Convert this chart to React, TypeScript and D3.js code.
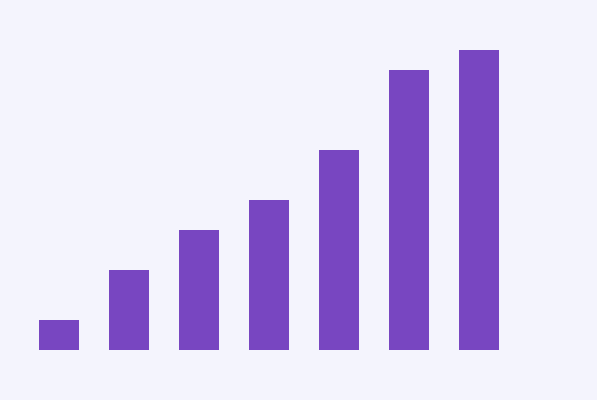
import React, { useEffect } from "react";
import * as d3 from "d3";

const categories = ["A", "B", "C", "D", "E", "F", "G"];
const values = [3, 8, 12, 15, 20, 28, 30];

const W = 597;
const H = 400;

export default function App() {
  useEffect(() => {
    document.body.style.margin = "0";
  }, []);
  const x = d3
    .scaleBand<string>()
    .domain(categories)
    .range([4, 534])
    .paddingInner(3 / 7)
    .paddingOuter(0.5);
  const y = d3.scaleLinear().domain([0, 30]).range([350, 50]);
  return (
    <svg width={W} height={H} style={{ display: "block" }}>
      <rect x={0} y={0} width={W} height={H} fill="#f4f4fd" />
      {categories.map((c, i) => (
        <rect
          key={c}
          x={x(c)}
          y={y(values[i])}
          width={x.bandwidth()}
          height={y(0) - y(values[i])}
          fill="#7846c1"
        />
      ))}
    </svg>
  );
}
